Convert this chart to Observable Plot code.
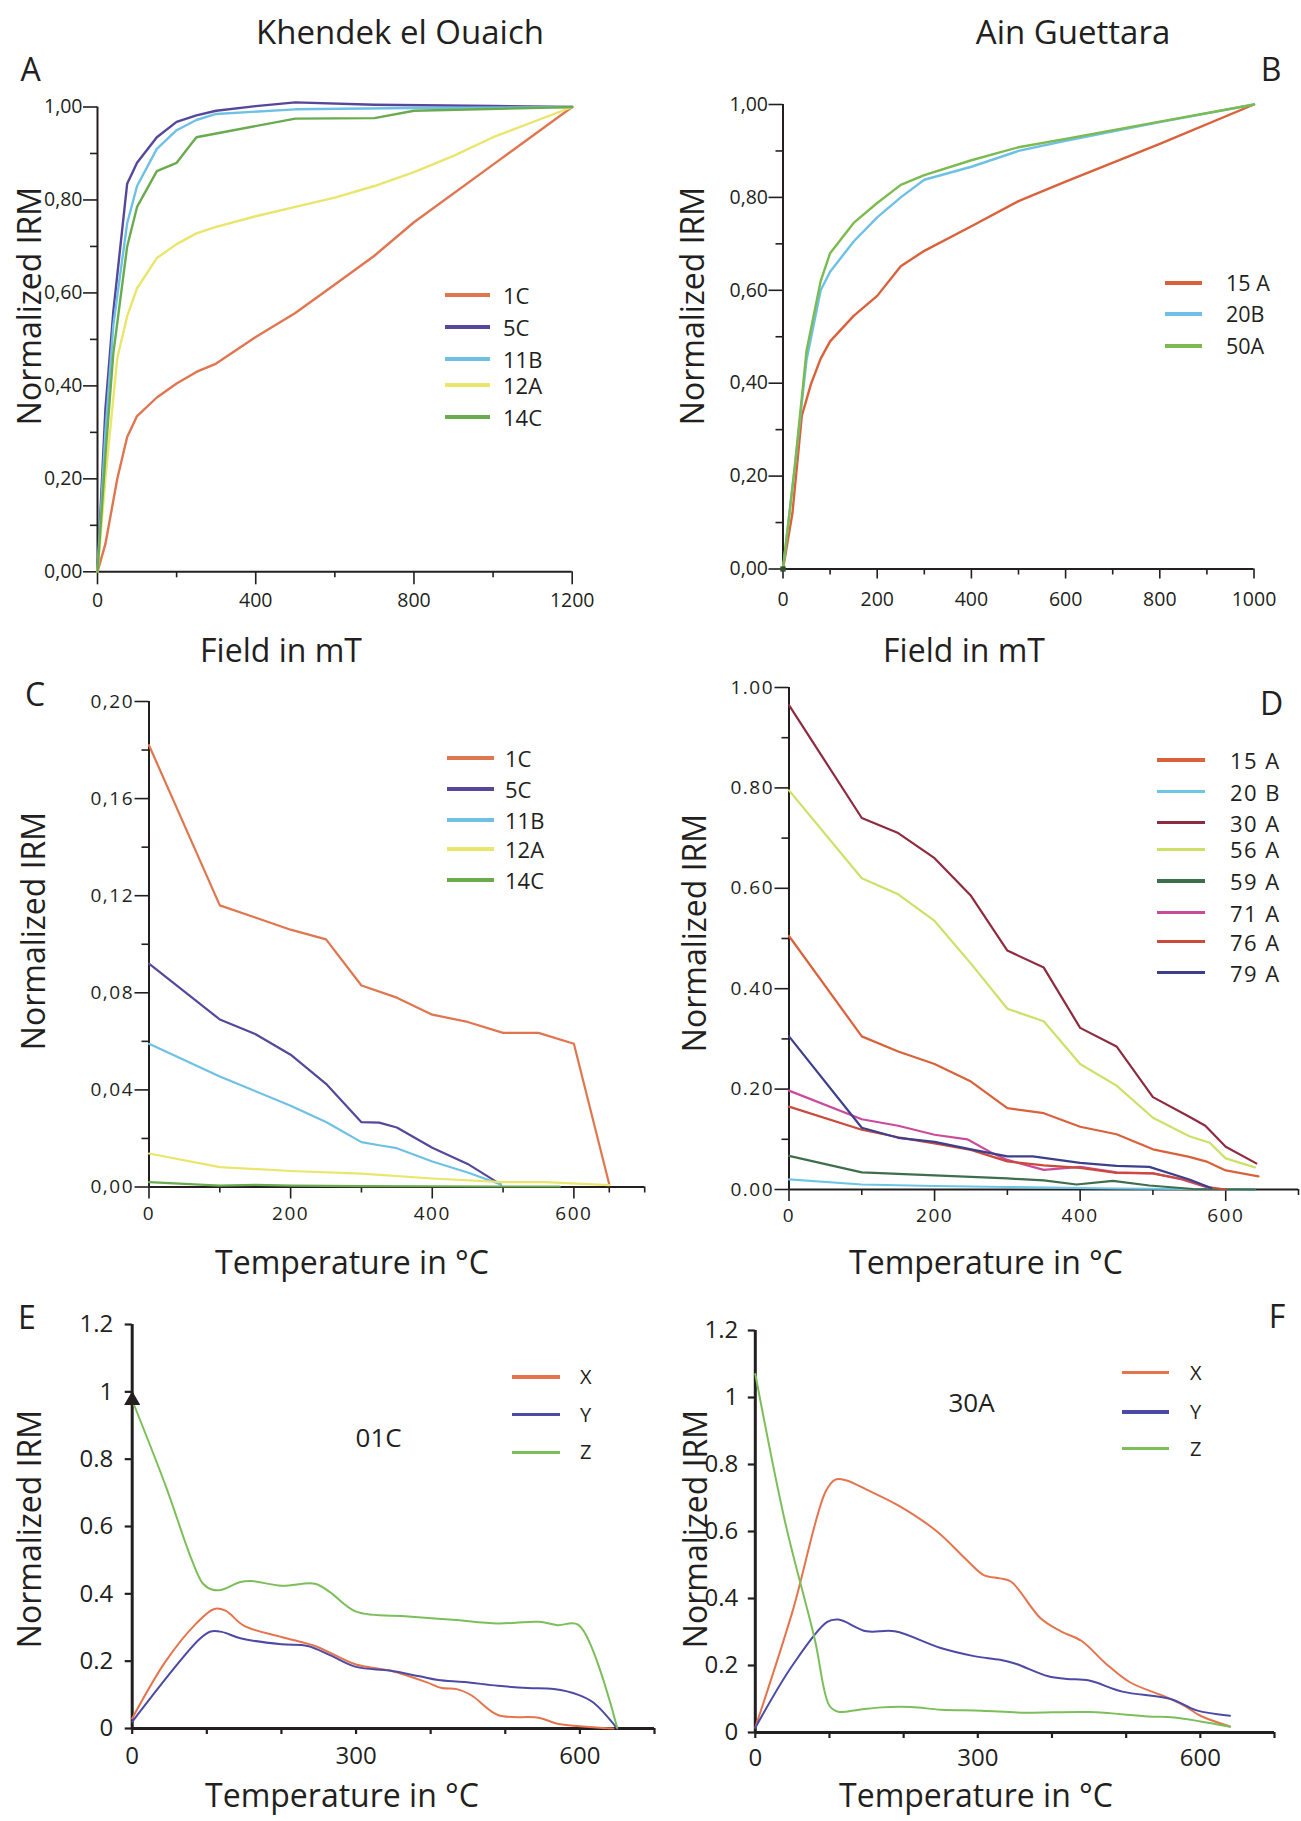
<!DOCTYPE html>
<html><head><meta charset="utf-8">
<script src="https://cdn.jsdelivr.net/npm/d3@7"></script>
<script src="https://cdn.jsdelivr.net/npm/@observablehq/plot@0.6"></script>
<style>
body{margin:0;background:#fff;}
#fig{position:relative;width:1301px;height:1821px;background:#fff;font-family:"Open Sans",sans-serif;color:#231f20;overflow:hidden}
.t{position:absolute;white-space:nowrap;line-height:1;}
.lg{position:absolute;}
</style></head><body><div id="fig"></div>
<script>
// ---------------- DATA ----------------
// Panel A : Khendek el Ouaich, IRM acquisition (field mT, normalized IRM)
const A_ids = ["1C","5C","11B","12A","14C"];
const A_1C  = [[0,0],[20,0.06],[50,0.2],[75,0.29],[100,0.335],[150,0.375],[200,0.405],[250,0.43],[300,0.448],[400,0.505],[500,0.557],[600,0.618],[700,0.68],[800,0.752],[1000,0.876],[1200,1]];
const A_5C  = [[0,0],[20,0.35],[40,0.56],[75,0.835],[100,0.88],[150,0.935],[200,0.968],[250,0.982],[300,0.992],[400,1.002],[500,1.01],[700,1.005],[1000,1.002],[1200,1]];
const A_11B = [[0,0],[20,0.3],[40,0.53],[75,0.75],[100,0.83],[150,0.91],[200,0.95],[250,0.972],[300,0.985],[500,0.995],[800,0.998],[1200,1]];
const A_12A = [[0,0],[20,0.2],[50,0.46],[75,0.55],[100,0.61],[150,0.675],[200,0.705],[250,0.728],[300,0.742],[400,0.765],[500,0.785],[600,0.805],[700,0.83],[800,0.86],[900,0.895],[1000,0.935],[1200,1]];
const A_14C = [[0,0],[20,0.25],[40,0.47],[75,0.7],[100,0.785],[150,0.862],[200,0.88],[250,0.935],[300,0.943],[500,0.975],[700,0.976],[800,0.992],[1200,1]];
const A_xMajor = [0,400,800,1200], A_xMinor = [200,600,1000];
const A_yMajor = [0,0.2,0.4,0.6,0.8,1.0], A_yMinor = [0.1,0.3,0.5,0.7,0.9];

// Panel B : Ain Guettara
const B_ids = ["15 A","20B","50A"];
const B_15A = [[0,0],[20,0.12],[40,0.33],[60,0.4],[80,0.453],[100,0.49],[150,0.545],[200,0.588],[250,0.652],[300,0.685],[400,0.738],[500,0.792],[600,0.834],[800,0.915],[1000,1]];
const B_20B = [[0,0],[25,0.22],[50,0.45],[80,0.6],[100,0.64],[150,0.705],[200,0.757],[250,0.8],[300,0.838],[400,0.866],[500,0.9],[600,0.922],[800,0.962],[1000,1]];
const B_50A = [[0,0],[25,0.22],[50,0.47],[80,0.62],[100,0.68],[150,0.745],[200,0.788],[250,0.827],[300,0.848],[400,0.88],[500,0.908],[600,0.926],[800,0.963],[1000,1]];
const B_origin = [[0,0]];
const B_xMajor = [0,200,400,600,800,1000], B_xMinor = [100,300,500,700,900];

// Panel C : thermal demagnetization, Khendek el Ouaich
const C_ids = ["1C","5C","11B","12A","14C"];
const C_1C  = [[0,0.182],[100,0.116],[150,0.111],[200,0.106],[250,0.102],[300,0.083],[350,0.078],[400,0.071],[450,0.068],[500,0.0635],[550,0.0635],[600,0.059],[650,0.001]];
const C_5C  = [[0,0.092],[100,0.069],[150,0.063],[200,0.0545],[250,0.0425],[300,0.0267],[325,0.0265],[350,0.0245],[400,0.0162],[450,0.0095],[497,0.001]];
const C_11B = [[0,0.059],[100,0.0455],[200,0.0335],[250,0.0268],[300,0.0185],[325,0.0172],[350,0.016],[400,0.0105],[450,0.006],[497,0.001]];
const C_12A = [[0,0.0138],[100,0.0082],[200,0.0066],[300,0.0055],[400,0.0035],[500,0.002],[560,0.002],[650,0.0008]];
const C_14C = [[0,0.002],[100,0.0006],[150,0.0009],[200,0.0006],[300,0.0004],[400,0.0003],[500,0.0002],[580,0.0002]];
const C_xMajor = [0,200,400,600], C_xMinor = [100,300,500,650,700];
const C_yMajor = [0,0.04,0.08,0.12,0.16,0.2], C_yMinor = [0.02,0.06,0.1,0.14,0.18];

// Panel D : thermal demagnetization, Ain Guettara
const D_ids = ["15 A","20 B","30 A","56 A","59 A","71 A","76 A","79 A"];
const D_15A = [[0,0.505],[100,0.305],[150,0.275],[200,0.25],[250,0.215],[300,0.162],[350,0.152],[400,0.125],[450,0.11],[500,0.08],[550,0.065],[575,0.055],[600,0.038],[645,0.026]];
const D_20B = [[0,0.02],[100,0.01],[200,0.007],[300,0.005],[450,0.002],[640,0]];
const D_30A = [[0,0.965],[100,0.74],[150,0.71],[200,0.66],[250,0.585],[300,0.476],[350,0.442],[400,0.322],[450,0.285],[500,0.184],[550,0.145],[572,0.127],[600,0.085],[642,0.052]];
const D_56A = [[0,0.795],[100,0.62],[150,0.588],[200,0.535],[250,0.45],[300,0.36],[350,0.335],[400,0.25],[450,0.207],[500,0.143],[550,0.106],[578,0.093],[600,0.062],[640,0.044]];
const D_59A = [[0,0.067],[100,0.034],[200,0.028],[300,0.022],[350,0.018],[395,0.01],[445,0.017],[495,0.008],[555,0.001],[640,0]];
const D_71A = [[0,0.197],[100,0.14],[150,0.127],[200,0.109],[245,0.1],[280,0.072],[300,0.059],[350,0.039],[400,0.045],[450,0.034],[500,0.032],[540,0.02],[575,0.004]];
const D_76A = [[0,0.165],[100,0.119],[150,0.104],[200,0.092],[250,0.079],[300,0.056],[350,0.048],[400,0.043],[450,0.033],[500,0.032],[540,0.021],[575,0.005],[600,0]];
const D_79A = [[0,0.305],[100,0.123],[150,0.103],[200,0.095],[250,0.08],[300,0.066],[335,0.066],[400,0.053],[450,0.047],[495,0.045],[550,0.02],[580,0.003]];
const D_yMajor = [0,0.2,0.4,0.6,0.8,1.0], D_yMinor = [0.1,0.3,0.5,0.7,0.9];

// Panel E : 01C, three-axis IRM demagnetization
const EF_ids = ["X","Y","Z"];
const E_X = [[0,0.03],[45,0.2],[85,0.31],[110,0.355],[125,0.35],[150,0.305],[200,0.272],[245,0.245],[265,0.225],[300,0.19],[345,0.172],[395,0.137],[415,0.12],[435,0.117],[455,0.098],[490,0.04],[545,0.032],[570,0.014],[600,0.007],[645,0]];
const E_Y = [[0,0.02],[90,0.265],[105,0.288],[120,0.287],[145,0.268],[200,0.25],[235,0.245],[265,0.218],[300,0.183],[345,0.172],[385,0.155],[410,0.144],[445,0.138],[490,0.127],[530,0.12],[565,0.117],[598,0.1],[618,0.077],[650,0]];
const E_Z = [[0,0.975],[45,0.72],[80,0.5],[95,0.43],[108,0.412],[120,0.412],[145,0.435],[160,0.438],[200,0.424],[245,0.43],[265,0.405],[300,0.347],[370,0.333],[430,0.323],[490,0.312],[545,0.317],[570,0.307],[598,0.308],[650,0.002]];
const E_marker = [[0,0.975]];
// Panel F : 30A
const F_X = [[0,0.015],[50,0.36],[95,0.72],[108,0.755],[122,0.753],[150,0.725],[195,0.675],[245,0.6],[285,0.515],[308,0.47],[330,0.46],[345,0.45],[385,0.34],[412,0.302],[440,0.273],[472,0.207],[505,0.15],[555,0.105],[580,0.078],[600,0.05],[640,0.018]];
const F_Y = [[0,0.014],[50,0.2],[97,0.33],[112,0.337],[150,0.302],[188,0.302],[250,0.252],[295,0.228],[330,0.217],[350,0.206],[395,0.168],[420,0.16],[450,0.155],[495,0.122],[560,0.1],[595,0.066],[640,0.05]];
const F_Z = [[0,1.07],[40,0.63],[80,0.28],[100,0.08],[112,0.062],[140,0.068],[170,0.075],[210,0.076],[250,0.068],[305,0.065],[360,0.059],[450,0.061],[530,0.048],[565,0.045],[640,0.017]];
const EF_xMajor = [0,300,600], EF_xMinor = [100,200,400,500,700];
const EF_yTicks = [0,0.2,0.4,0.6,0.8,1,1.2];

// ---------------- STYLE ----------------
const INK = "#231f20";
const colA = ["#e0764f","#56479c","#6ec1e4","#e9e66b","#6aab4e"];
const colB = ["#d9623b","#6ec1e4","#7bbb4f"];
const colD = ["#d9623b","#6ec6e6","#8e2b3f","#cfe067","#3f6e4c","#c94c9c","#cc4a3c","#3c408c"];
const colEF = ["#e5744c","#4d4aa5","#7cbf5a"];
const FONT = '"Open Sans", sans-serif';

const fig = document.getElementById("fig");
function txt(s, x, y, size, o = {}) {
  const d = document.createElement("div");
  d.className = "t";
  d.textContent = s;
  d.style.left = x + "px"; d.style.top = y + "px";
  d.style.fontSize = size + "px";
  if (o.spacing) d.style.letterSpacing = o.spacing + "px";
  const tx = o.anchor === "start" ? "0" : "-50%";
  d.style.transform = `translate(${tx},-50%)` + (o.rotate ? ` rotate(${o.rotate}deg)` : "");
  fig.appendChild(d);
}
function legend(ids, cols, x1, x2, xl, ys, size, thick, spacing) {
  ids.forEach((id, i) => {
    const l = document.createElement("div");
    l.className = "lg";
    l.style.left = x1 + "px"; l.style.top = (ys[i] - thick / 2) + "px";
    l.style.width = (x2 - x1) + "px"; l.style.height = thick + "px";
    l.style.background = cols[i];
    fig.appendChild(l);
    txt(id, xl, ys[i], size, {anchor: "start", spacing});
  });
}
function rowsOf(ids, arrays) {
  return ids.flatMap((id, i) => arrays[i].map(([x, y]) => ({id, x, y})));
}
const comma = d => d.toFixed(2).replace(".", ",");

function panel(c) {
  const marks = [
    Plot.axisY({ticks: c.yMinor || [], tickSize: c.yMinorSize, tickFormat: () => "", label: null, strokeWidth: c.tickW}),
    Plot.axisY({ticks: c.yMajor, tickSize: c.yMajorSize, tickPadding: c.yPad, tickFormat: c.fmtY, label: null, strokeWidth: c.tickW}),
    Plot.axisX({ticks: c.xMinor || [], tickSize: c.xMinorSize, tickFormat: () => "", label: null, strokeWidth: c.tickW}),
    Plot.axisX({ticks: c.xMajor, tickSize: c.xMajorSize, tickPadding: c.xPad, tickFormat: c.fmtX || (d => String(d)), label: null, strokeWidth: c.tickW}),
    Plot.ruleX([c.xDomain[0]], {stroke: INK, strokeWidth: c.axisW}),
    Plot.ruleY([c.yDomain[0]], {stroke: INK, strokeWidth: c.axisW}),
    Plot.line(c.rows, {x: "x", y: "y", z: "id", stroke: "id", strokeWidth: c.lineW, curve: c.curve || "linear", strokeLinejoin: "round"}),
    ...(c.extra || [])
  ];
  const svg = Plot.plot({
    width: c.width, height: c.height,
    marginLeft: c.x0 - c.left, marginRight: c.left + c.width - c.x1,
    marginTop: c.yTopPx - c.top, marginBottom: c.top + c.height - c.yBotPx,
    x: {domain: c.xDomain, label: null},
    y: {domain: c.yDomain, label: null},
    color: {domain: c.ids, range: c.colors},
    style: {fontFamily: FONT, fontSize: c.tickFont + "px", color: INK, background: "transparent", overflow: "visible", letterSpacing: (c.spacing || 0) + "px"},
    marks
  });
  svg.style.position = "absolute";
  svg.style.left = c.left + "px";
  svg.style.top = c.top + "px";
  fig.appendChild(svg);
}

// ---------------- PANEL A ----------------
panel({left: 0, top: 80, width: 600, height: 545, x0: 97, x1: 571.7, yTopPx: 106.5, yBotPx: 571.3,
  xDomain: [0, 1200], yDomain: [0, 1], ids: A_ids, colors: colA,
  rows: rowsOf(A_ids, [A_1C, A_5C, A_11B, A_12A, A_14C]),
  xMajor: A_xMajor, xMinor: A_xMinor, yMajor: A_yMajor, yMinor: A_yMinor,
  xMajorSize: 13, xMinorSize: 6, yMajorSize: 14, yMinorSize: 7, xPad: 8, yPad: 1,
  fmtY: comma, tickFont: 19.5, tickW: 1.6, axisW: 2, lineW: 2.4});
// ---------------- PANEL B ----------------
panel({left: 650, top: 80, width: 640, height: 545, x0: 782.5, x1: 1253.5, yTopPx: 104, yBotPx: 568.5,
  xDomain: [0, 1000], yDomain: [0, 1], ids: B_ids, colors: colB,
  rows: rowsOf(B_ids, [B_15A, B_20B, B_50A]),
  xMajor: B_xMajor, xMinor: B_xMinor, yMajor: A_yMajor, yMinor: A_yMinor,
  xMajorSize: 10, xMinorSize: 6, yMajorSize: 14, yMinorSize: 7, xPad: 13, yPad: 1,
  fmtY: comma, tickFont: 19.5, tickW: 1.6, axisW: 2, lineW: 2.4,
  extra: [Plot.dot(B_origin, {x: d => d[0], y: d => d[1], symbol: "square", r: 3, fill: "#35512f"})]});
// ---------------- PANEL C ----------------
panel({left: 0, top: 680, width: 660, height: 560, x0: 148.5, x1: 644.2, yTopPx: 701, yBotPx: 1186.5,
  xDomain: [0, 700], yDomain: [0, 0.2], ids: C_ids, colors: colA,
  rows: rowsOf(C_ids, [C_1C, C_5C, C_11B, C_12A, C_14C]),
  xMajor: C_xMajor, xMinor: C_xMinor, yMajor: C_yMajor, yMinor: C_yMinor,
  xMajorSize: 12, xMinorSize: 6, yMajorSize: 14, yMinorSize: 7, xPad: 7, yPad: 1,
  fmtY: comma, tickFont: 19, spacing: 1.5, tickW: 1.6, axisW: 2, lineW: 2.2});
// ---------------- PANEL D ----------------
panel({left: 650, top: 670, width: 651, height: 580, x0: 788.5, x1: 1298, yTopPx: 687, yBotPx: 1189,
  xDomain: [0, 700], yDomain: [0, 1], ids: D_ids, colors: colD,
  rows: rowsOf(D_ids, [D_15A, D_20B, D_30A, D_56A, D_59A, D_71A, D_76A, D_79A]),
  xMajor: C_xMajor, xMinor: [100,300,500,700], yMajor: D_yMajor, yMinor: D_yMinor,
  xMajorSize: 12, xMinorSize: 6, yMajorSize: 14, yMinorSize: 7, xPad: 7, yPad: 1,
  fmtY: d => d.toFixed(2), tickFont: 19, spacing: 1.5, tickW: 1.6, axisW: 2, lineW: 2.2});
// ---------------- PANEL E ----------------
panel({left: 0, top: 1300, width: 660, height: 521, x0: 131.7, x1: 654, yTopPx: 1324, yBotPx: 1728,
  xDomain: [0, 700], yDomain: [0, 1.2], ids: EF_ids, colors: colEF,
  rows: rowsOf(EF_ids, [E_X, E_Y, E_Z]),
  xMajor: EF_xMajor, xMinor: EF_xMinor, yMajor: EF_yTicks, yMinor: [],
  xMajorSize: 6, xMinorSize: 6, yMajorSize: 7, yMinorSize: 7, xPad: 12, yPad: 12,
  fmtY: d => String(d), tickFont: 24, tickW: 2.2, axisW: 3, lineW: 2, curve: "catmull-rom",
  extra: [Plot.dot(E_marker, {x: d => d[0], y: d => d[1], symbol: "triangle", r: 6, fill: INK})]});
// ---------------- PANEL F ----------------
panel({left: 650, top: 1300, width: 651, height: 521, x0: 754.8, x1: 1274, yTopPx: 1330, yBotPx: 1732,
  xDomain: [0, 700], yDomain: [0, 1.2], ids: EF_ids, colors: colEF,
  rows: rowsOf(EF_ids, [F_X, F_Y, F_Z]),
  xMajor: EF_xMajor, xMinor: EF_xMinor, yMajor: EF_yTicks, yMinor: [],
  xMajorSize: 6, xMinorSize: 6, yMajorSize: 7, yMinorSize: 7, xPad: 10, yPad: 10,
  fmtY: d => String(d), tickFont: 24, tickW: 2.2, axisW: 3, lineW: 2, curve: "catmull-rom"});

// ---------------- TEXT ----------------
txt("Khendek el Ouaich", 400, 31, 33);
txt("Ain Guettara", 1073, 31, 33);
txt("A", 30.5, 69, 32); txt("B", 1271, 69, 32);
txt("C", 35, 694, 32);  txt("D", 1271.5, 703, 32);
txt("E", 27, 1317, 32); txt("F", 1277, 1316, 32);
txt("Normalized IRM", 29, 306, 32, {rotate: -90});
txt("Normalized IRM", 691.5, 306, 32, {rotate: -90});
txt("Normalized IRM", 33, 931, 32, {rotate: -90});
txt("Normalized IRM", 694, 933, 32, {rotate: -90});
txt("Normalized IRM", 29, 1529, 32, {rotate: -90});
txt("Normalized IRM", 694.6, 1529, 32, {rotate: -90});
txt("Field in mT", 281, 650, 32);
txt("Field in mT", 964, 650, 32);
txt("Temperature in °C", 352, 1262, 32);
txt("Temperature in °C", 986, 1262, 32);
txt("Temperature in °C", 342, 1795, 32);
txt("Temperature in °C", 976, 1795, 32);
txt("01C", 378.6, 1436.5, 26);
txt("30A", 971.6, 1401.5, 26);

// ---------------- LEGENDS ----------------
legend(A_ids, colA, 445, 490, 503, [294.6, 326.6, 358.6, 385.1, 416.7], 22, 4);
legend(B_ids, colB, 1164.5, 1202, 1226, [282.8, 314.4, 346], 21.5, 4);
legend(C_ids, colA, 447.3, 494, 505, [758.2, 789, 820, 849, 880], 22, 4);
legend(D_ids, colD, 1156.7, 1205, 1230, [760, 791.7, 822.7, 849.3, 881, 912.7, 941.7, 972.7], 22, 3.5, 1.5);
legend(EF_ids, colEF, 512.4, 560, 580, [1377, 1414.7, 1452.4], 20, 3.5);
legend(EF_ids, colEF, 1122, 1168.7, 1190, [1372.5, 1412, 1448.6], 20, 3.5);
</script></body></html>
